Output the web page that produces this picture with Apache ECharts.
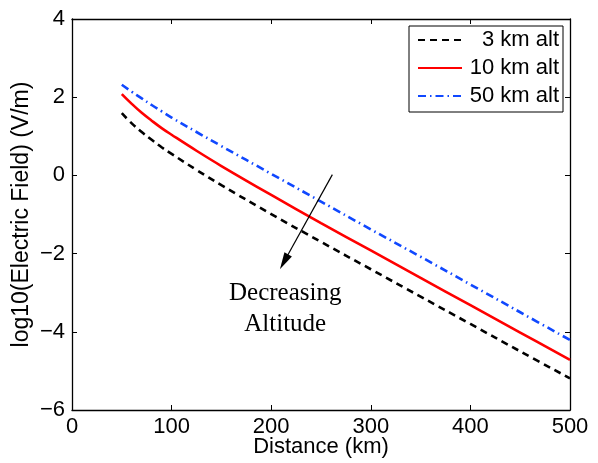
<!DOCTYPE html>
<html>
<head>
<meta charset="utf-8">
<script src="https://cdn.jsdelivr.net/npm/echarts@6/dist/echarts.min.js"></script>
<style>html,body{margin:0;padding:0;background:#fff}#c{width:598px;height:463px}</style>
</head>
<body>
<div id="c"></div>
<script>
const distances = [50, 60, 70, 80, 90, 100, 125, 150, 200, 250, 300, 350, 400, 450, 500];
const alt3km  = [1.59, 1.33, 1.11, 0.91, 0.72, 0.55, 0.14, -0.25, -0.99, -1.70, -2.40, -3.10, -3.80, -4.50, -5.19];
const alt10km = [2.08, 1.83, 1.60, 1.40, 1.21, 1.04, 0.63, 0.24, -0.50, -1.22, -1.92, -2.62, -3.32, -4.02, -4.72];
const alt50km = [2.32, 2.14, 1.97, 1.80, 1.64, 1.48, 1.11, 0.75, 0.04, -0.67, -1.38, -2.08, -2.79, -3.50, -4.21];
const seriesNames = ['3 km alt', '10 km alt', '50 km alt'];
const xTicks = [0, 100, 200, 300, 400, 500];
const yTicks = [-6, -4, -2, 0, 2, 4];
const arrowStart = [261.4, 0.02];
const arrowEnd = [212.9, -2.21];
const noteAt = [214.1, -3.42];
const noteText = 'Decreasing\nAltitude';

const pairs = vals => distances.map((d, i) => [d, vals[i]]);
const sans = 'Liberation Sans, Arial, Helvetica, sans-serif';
const minus = v => (v < 0 ? '\u2212' + Math.abs(v) : String(v));

const axisCommon = {
  axisLine: { show: true, onZero: false, lineStyle: { color: '#000', width: 1.3 } },
  axisTick: { show: true, inside: true, length: 5, lineStyle: { color: '#000', width: 1 } },
  splitLine: { show: false }
};

const chart = echarts.init(document.getElementById('c'), null, { renderer: 'canvas' });
chart.setOption({
  animation: false,
  backgroundColor: '#fff',
  grid: { left: 72, top: 19, right: 28, bottom: 52, containLabel: false },
  legend: {
    orient: 'vertical',
    right: 35,
    top: 26,
    data: seriesNames,
    itemWidth: 44,
    itemHeight: 14,
    itemGap: 6,
    padding: [3, 4, 5, 8],
    borderColor: '#000',
    borderWidth: 1,
    borderRadius: 0,
    backgroundColor: '#fff',
    itemStyle: { color: 'rgba(0,0,0,0)', borderWidth: 0, opacity: 0 },
    formatter: n => '{a|' + n + '}',
    textStyle: {
      fontFamily: sans, fontSize: 22, color: '#000', lineHeight: 22,
      rich: { a: { width: 92, align: 'right', fontFamily: sans, fontSize: 22, color: '#000', lineHeight: 22 } }
    }
  },
  xAxis: [
    Object.assign({}, axisCommon, {
      type: 'value', position: 'bottom', min: xTicks[0], max: xTicks[xTicks.length - 1], interval: 100,
      name: 'Distance (km)', nameLocation: 'middle', nameGap: 26, nameMoveOverlap: false,
      nameTextStyle: { fontFamily: sans, fontSize: 22, color: '#000', lineHeight: 22 },
      axisLabel: { fontFamily: sans, fontSize: 22, color: '#000', margin: 6, formatter: minus }
    }),
    Object.assign({}, axisCommon, {
      type: 'value', position: 'top', min: xTicks[0], max: xTicks[xTicks.length - 1], interval: 100,
      axisLabel: { show: false }
    })
  ],
  yAxis: [
    Object.assign({}, axisCommon, {
      type: 'value', position: 'left', min: yTicks[0], max: yTicks[yTicks.length - 1], interval: 2,
      name: 'log10(Electric Field) (V/m)', nameLocation: 'middle', nameGap: 39, nameMoveOverlap: false,
      nameTextStyle: { fontFamily: sans, fontSize: 23, color: '#000', lineHeight: 23 },
      axisLabel: { fontFamily: sans, fontSize: 22, color: '#000', margin: 7, formatter: minus }
    }),
    Object.assign({}, axisCommon, {
      type: 'value', position: 'right', min: yTicks[0], max: yTicks[yTicks.length - 1], interval: 2,
      axisLabel: { show: false }
    })
  ],
  series: [
    {
      name: seriesNames[0], type: 'line', data: pairs(alt3km), showSymbol: false, symbol: 'none',
      smooth: 0.4, color: '#000',
      lineStyle: { color: '#000', width: 2.6, type: [7, 5] },
      markLine: {
        silent: true,
        symbol: ['none', 'triangle'],
        symbolSize: 14,
        lineStyle: { color: '#000', width: 1.2, type: 'solid' },
        label: { show: false },
        data: [[
          { coord: arrowStart, symbol: 'none' },
          { coord: arrowEnd, symbol: 'path://M4,0L8,16L0,16Z', symbolSize: 17, symbolKeepAspect: true }
        ]]
      }
    },
    {
      name: seriesNames[1], type: 'line', data: pairs(alt10km), showSymbol: false, symbol: 'none',
      smooth: 0.4, color: '#ff0000',
      lineStyle: { color: '#ff0000', width: 2.6, type: 'solid' },
      markPoint: {
        silent: true,
        symbol: 'circle', symbolSize: 1,
        itemStyle: { color: 'rgba(0,0,0,0)' },
        label: {
          show: true, position: 'inside', formatter: noteText,
          fontFamily: 'Liberation Serif, Times New Roman, serif', fontSize: 25, lineHeight: 31, color: '#000', align: 'center'
        },
        data: [{ coord: noteAt }]
      }
    },
    {
      name: seriesNames[2], type: 'line', data: pairs(alt50km), showSymbol: false, symbol: 'none',
      smooth: 0.4, color: '#1048ff',
      lineStyle: { color: '#1048ff', width: 2.6, type: [8, 4, 1.5, 4] }
    }
  ]
});
</script>
</body>
</html>
